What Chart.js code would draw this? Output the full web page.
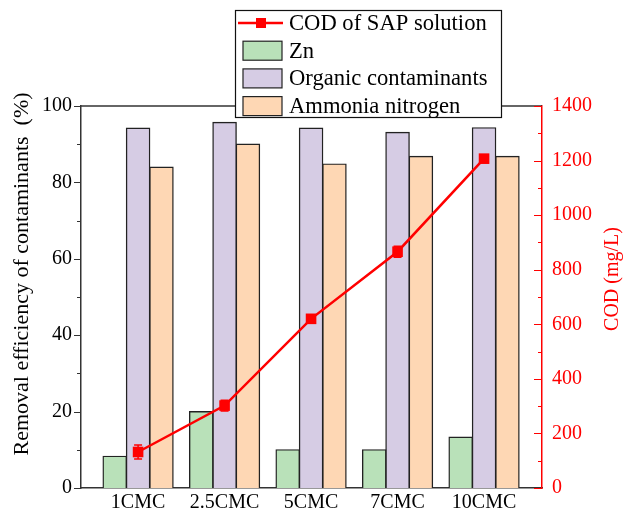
<!DOCTYPE html>
<html>
<head>
<meta charset="utf-8">
<script src="https://cdn.jsdelivr.net/npm/chart.js@4"></script>
<style>
  html, body { margin: 0; padding: 0; background: #ffffff; }
  canvas { display: block; }
</style>
</head>
<body>
<canvas id="chart" width="623" height="514"></canvas>
<script>
// Sample groups and measured values
const categories = ['1CMC', '2.5CMC', '5CMC', '7CMC', '10CMC'];
const znRemoval = [8.3, 20.0, 10.0, 10.0, 13.3];          // %
const organicRemoval = [94.2, 95.7, 94.2, 93.1, 94.3];    // %
const ammoniaRemoval = [84.0, 90.0, 84.8, 86.8, 86.8];    // %
const codValues = [132, 302, 620, 866, 1207];             // mg/L
const codErrors = [26, 20, 12, 20, 10];                   // mg/L
const removalTicks = [0, 20, 40, 60, 80, 100];
const codTicks = [0, 200, 400, 600, 800, 1000, 1200, 1400];

const seriesNames = ['COD of SAP solution', 'Zn', 'Organic contaminants', 'Ammonia nitrogen'];
const FONT = '"Liberation Serif", "Times New Roman", serif';
const RED = '#ff0000';
const AXIS = '#333333';

const toPoints = arr => arr.map((v, i) => ({ x: i, y: v }));

// white page behind the chart
const background = {
  id: 'background',
  beforeDraw(chart) {
    const ctx = chart.ctx;
    ctx.save();
    ctx.fillStyle = '#ffffff';
    ctx.fillRect(0, 0, chart.width, chart.height);
    ctx.restore();
  }
};

// tick marks (majors + minors), top frame line and axis titles
const axisDecor = {
  id: 'axisDecor',
  afterDraw(chart) {
    const ctx = chart.ctx;
    const a = chart.chartArea;
    const y = chart.scales.y, y1 = chart.scales.y1;
    ctx.save();
    // top frame line
    ctx.strokeStyle = AXIS;
    ctx.lineWidth = 1.5;
    ctx.beginPath();
    ctx.moveTo(a.left, a.top);
    ctx.lineTo(a.right, a.top);
    ctx.stroke();
    // left axis ticks (outward)
    ctx.lineWidth = 1;
    ctx.strokeStyle = AXIS;
    for (let v = 0; v <= 100; v += 10) {
      const py = Math.round(y.getPixelForValue(v)) + 0.5;
      const len = v % 20 === 0 ? 7 : 4;
      ctx.beginPath();
      ctx.moveTo(a.left, py);
      ctx.lineTo(a.left - len, py);
      ctx.stroke();
    }
    // right axis ticks (inward)
    ctx.strokeStyle = RED;
    for (let v = 0; v <= 1400; v += 100) {
      const py = Math.round(y1.getPixelForValue(v)) + 0.5;
      const len = v % 200 === 0 ? 8 : 4;
      ctx.beginPath();
      ctx.moveTo(a.right, py);
      ctx.lineTo(a.right - len, py);
      ctx.stroke();
    }
    // axis titles
    ctx.font = '22px ' + FONT;
    ctx.fillStyle = '#000000';
    ctx.textAlign = 'center';
    ctx.textBaseline = 'middle';
    ctx.save();
    ctx.translate(22, 274);
    ctx.rotate(-Math.PI / 2);
    ctx.fillText('Removal efficiency of contaminants  (%)', 0, 0);
    ctx.restore();
    ctx.font = '20px ' + FONT;
    ctx.fillStyle = RED;
    ctx.save();
    ctx.translate(613, 279);
    ctx.rotate(-Math.PI / 2);
    ctx.fillText('COD (mg/L)', 0, 0);
    ctx.restore();
    ctx.restore();
  }
};

// vertical error bars on the COD series
const errorBars = {
  id: 'errorBars',
  afterDatasetsDraw(chart) {
    const ctx = chart.ctx;
    const xs = chart.scales.x, y1 = chart.scales.y1;
    ctx.save();
    ctx.strokeStyle = RED;
    ctx.lineWidth = 1.5;
    codValues.forEach((v, i) => {
      const px = xs.getPixelForValue(i);
      const top = y1.getPixelForValue(v + codErrors[i]);
      const bot = y1.getPixelForValue(v - codErrors[i]);
      ctx.beginPath();
      ctx.moveTo(px, top); ctx.lineTo(px, bot);
      ctx.moveTo(px - 4, top); ctx.lineTo(px + 4, top);
      ctx.moveTo(px - 4, bot); ctx.lineTo(px + 4, bot);
      ctx.stroke();
    });
    ctx.restore();
  }
};

// boxed legend overlapping the top of the frame
const boxLegend = {
  id: 'boxLegend',
  afterDraw(chart) {
    const ctx = chart.ctx;
    const bx = 235, by = 10, bw = 266, bh = 107;
    const fills = [null, '#b9e1b9', '#d6cce4', '#fed7b4'];
    ctx.save();
    ctx.fillStyle = '#ffffff';
    ctx.fillRect(bx, by, bw, bh);
    ctx.strokeStyle = '#111111';
    ctx.lineWidth = 1.2;
    ctx.strokeRect(bx + 0.5, by + 0.5, bw, bh);
    ctx.font = '22.6px ' + FONT;
    ctx.textAlign = 'left';
    ctx.textBaseline = 'middle';
    seriesNames.forEach((name, i) => {
      const cy = 23 + i * 27.7;
      if (i === 0) {
        ctx.strokeStyle = RED;
        ctx.lineWidth = 2.5;
        ctx.beginPath();
        ctx.moveTo(238, cy); ctx.lineTo(283, cy);
        ctx.stroke();
        ctx.fillStyle = RED;
        ctx.fillRect(256, cy - 5, 10, 10);
      } else {
        ctx.fillStyle = fills[i];
        ctx.fillRect(243, cy - 9.5, 39, 19);
        ctx.strokeStyle = '#222222';
        ctx.lineWidth = 1.2;
        ctx.strokeRect(243, cy - 9.5, 39, 19);
      }
      ctx.fillStyle = '#000000';
      ctx.fillText(name, 289, cy + 1);
    });
    ctx.restore();
  }
};

const barStyle = { borderColor: '#222222', borderWidth: 1.4, inflateAmount: 0.6, yAxisID: 'y', order: 2 };

new Chart(document.getElementById('chart'), {
  type: 'bar',
  data: {
    datasets: [
      {
        type: 'line', label: seriesNames[0], data: toPoints(codValues), yAxisID: 'y1', order: 0,
        borderColor: RED, backgroundColor: RED, borderWidth: 2.5, tension: 0,
        pointStyle: 'rect', pointRadius: 7.5, pointBackgroundColor: RED, pointBorderWidth: 0
      },
      Object.assign({ label: seriesNames[1], data: toPoints(znRemoval), backgroundColor: '#b9e1b9' }, barStyle),
      Object.assign({ label: seriesNames[2], data: toPoints(organicRemoval), backgroundColor: '#d6cce4' }, barStyle),
      Object.assign({ label: seriesNames[3], data: toPoints(ammoniaRemoval), backgroundColor: '#fed7b4' }, barStyle)
    ]
  },
  options: {
    responsive: false,
    animation: false,
    devicePixelRatio: 1,
    layout: { padding: { top: 106, left: 0, right: 0, bottom: 0 } },
    datasets: { bar: { categoryPercentage: 0.81, barPercentage: 1.0 } },
    plugins: { legend: { display: false }, tooltip: { enabled: false } },
    scales: {
      x: {
        type: 'linear', min: -0.66, max: 4.67, offset: false,
        afterBuildTicks: s => { s.ticks = categories.map((_, i) => ({ value: i })); },
        afterFit: s => { s.height = 26; },
        grid: { display: false, drawTicks: false },
        border: { color: AXIS, width: 1.5 },
        ticks: {
          autoSkip: false, maxRotation: 0, padding: 3, color: '#000000',
          font: { family: FONT, size: 20 },
          callback: v => categories[v] !== undefined ? categories[v] : ''
        }
      },
      y: {
        position: 'left', min: 0, max: 100,
        afterBuildTicks: s => { s.ticks = removalTicks.map(v => ({ value: v })); },
        afterFit: s => { s.width = 81; },
        grid: { display: false, drawTicks: false },
        border: { color: AXIS, width: 1.5 },
        ticks: { padding: 9, color: '#000000', font: { family: FONT, size: 20 }, callback: v => String(v) }
      },
      y1: {
        position: 'right', min: 0, max: 1400,
        afterBuildTicks: s => { s.ticks = codTicks.map(v => ({ value: v })); },
        afterFit: s => { s.width = 81; },
        grid: { display: false, drawTicks: false },
        border: { color: RED, width: 1.5 },
        ticks: { padding: 10, color: RED, font: { family: FONT, size: 20 }, callback: v => String(v) }
      }
    }
  },
  plugins: [background, errorBars, axisDecor, boxLegend]
});
</script>
</body>
</html>
